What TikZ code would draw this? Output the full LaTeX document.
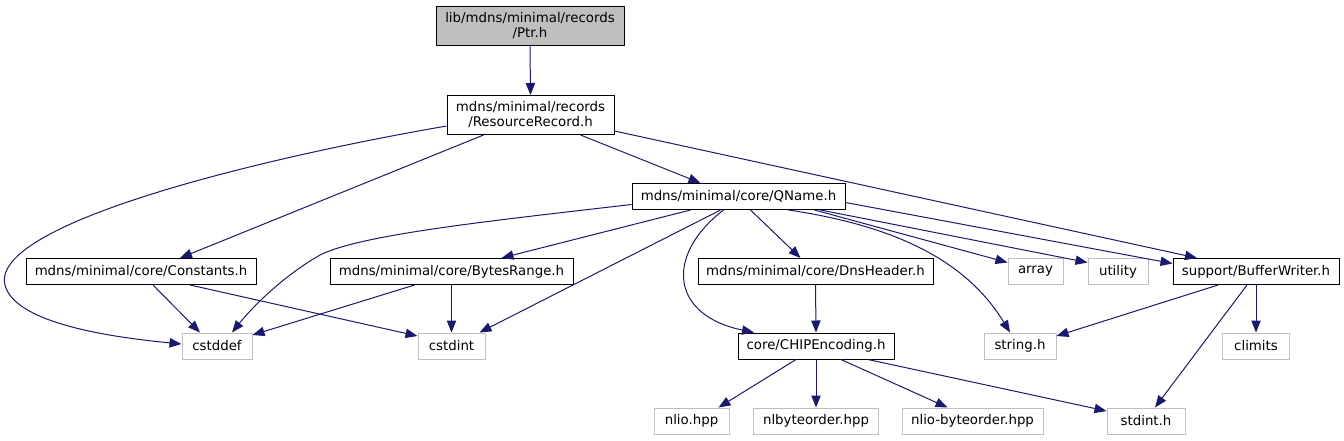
\documentclass[tikz,border=0pt]{standalone}
\usepackage{fontspec}
\setmainfont{DejaVu Sans}
\usetikzlibrary{arrows.meta,calc}
\definecolor{edgec}{HTML}{191970}
\definecolor{grayb}{HTML}{BFBFBF}
\tikzset{
  box/.style={draw=black, rectangle, inner sep=0pt, minimum height=26*0.75pt, align=center,
    font=\fontsize{10pt}{11.25pt}\selectfont, line width=0.75pt},
  sysbox/.style={box, draw=grayb},
  bw/.style={minimum width=#1*0.75pt},
  tall/.style={minimum height=39*0.75pt},
  edge/.style={draw=edgec, line width=0.75pt, -{Triangle[length=9pt,width=7pt]}},
}
\begin{document}
\begin{tikzpicture}[x=0.75pt,y=-0.75pt]
\useasboundingbox (0,0) rectangle (1344,440);
% nodes
\node[box, tall, bw=188, fill=grayb] (ptr) at (530,25.5) {lib/mdns/minimal/records\\/Ptr.h};
\node[box, tall, bw=167] (rr) at (530.5,115) {mdns/minimal/records\\/ResourceRecord.h};
\node[box, bw=213] (qname) at (738.5,196.5) {mdns/minimal/core/QName.h};
\node[box, bw=230] (const) at (141,271.5) {mdns/minimal/core/Constants.h};
\node[box, bw=243] (bytes) at (451.5,271.5) {mdns/minimal/core/BytesRange.h};
\node[box, bw=235] (dns) at (815.5,271.5) {mdns/minimal/core/DnsHeader.h};
\node[sysbox, bw=55] (array) at (1035.5,271.5) {array};
\node[sysbox, bw=60] (utility) at (1118,271.5) {utility};
\node[box, bw=166] (bwr) at (1256,271.5) {support/BufferWriter.h};
\node[sysbox, bw=70] (cstddef) at (217,346) {cstddef};
\node[sysbox, bw=67] (cstdint) at (451.5,346) {cstdint};
\node[box, bw=156] (chip) at (816,346) {core/CHIPEncoding.h};
\node[sysbox, bw=72] (string) at (1020,346) {string.h};
\node[sysbox, bw=67] (climits) at (1256,346) {climits};
\node[sysbox, bw=75] (nlio) at (691.5,421) {nlio.hpp};
\node[sysbox, bw=125] (nlbo) at (816,421) {nlbyteorder.hpp};
\node[sysbox, bw=141] (nliobo) at (972.5,421) {nlio-byteorder.hpp};
\node[sysbox, bw=78] (stdint) at (1146,421) {stdint.h};
% edges
\draw[edge] (ptr.south) -- (rr.north);
\draw[edge] ($(rr.west)+(0,11)$) .. controls (250,160) and (-10,225) .. (5,285) .. controls (15,325) and (120,338) .. ($(cstddef.west)+(0,-2)$);
\draw[edge] ($(rr.south)+(-47,0)$) -- ($(const.north)+(39,0)$);
\draw[edge] ($(rr.south)+(50,0)$) -- ($(qname.north)+(-38,0)$);
\draw[edge] ($(rr.east)+(0,16)$) -- ($(bwr.north)+(-59,0)$);
\draw[edge] ($(qname.west)+(0,8)$) .. controls (480,222) and (360,235) .. (320,255) .. controls (280,278) and (250,310) .. ($(cstddef.north)+(15,0)$);
\draw[edge] ($(qname.south)+(-48,0)$) -- ($(bytes.north)+(50,0)$);
\draw[edge] ($(qname.south)+(-18,0)$) -- ($(cstdint.north)+(28,0)$);
\draw[edge] ($(qname.south)+(-15,0)$) .. controls (665,255) and (670,315) .. ($(chip.north)+(-62,0)$);
\draw[edge] ($(qname.south)+(12,0)$) -- ($(dns.north)+(-15,0)$);
\draw[edge] ($(qname.south)+(50,0)$) .. controls (890,225) and (965,258) .. ($(string.north)+(-10,0)$);
\draw[edge] ($(qname.south)+(76,0)$) -- ($(array.west)+(0,-9)$);
\draw[edge] ($(qname.south)+(82,0)$) -- ($(utility.west)+(0,-9)$);
\draw[edge] ($(qname.east)+(0,6)$) -- ($(bwr.west)+(0,-8)$);
\draw[edge] ($(const.south)+(12,0)$) -- ($(cstddef.north)+(-17,0)$);
\draw[edge] ($(const.south)+(49,0)$) -- ($(cstdint.west)+(0,-10)$);
\draw[edge] ($(bytes.south)+(-37,0)$) -- ($(cstddef.east)+(0,-11)$);
\draw[edge] (bytes.south) -- (cstdint.north);
\draw[edge] (dns.south) -- (chip.north);
\draw[edge] ($(bwr.south)+(-38,0)$) -- ($(string.east)+(0,-10)$);
\draw[edge] (bwr.south) -- (climits.north);
\draw[edge] ($(bwr.south)+(-9,0)$) -- ($(stdint.north)+(9,0)$);
\draw[edge] ($(chip.south)+(-20,0)$) -- ($(nlio.north)+(27,0)$);
\draw[edge] (chip.south) -- (nlbo.north);
\draw[edge] ($(chip.south)+(25,0)$) -- ($(nliobo.north)+(-25,0)$);
\draw[edge] ($(chip.south)+(52,0)$) -- ($(stdint.west)+(0,-10)$);
\end{tikzpicture}
\end{document}
